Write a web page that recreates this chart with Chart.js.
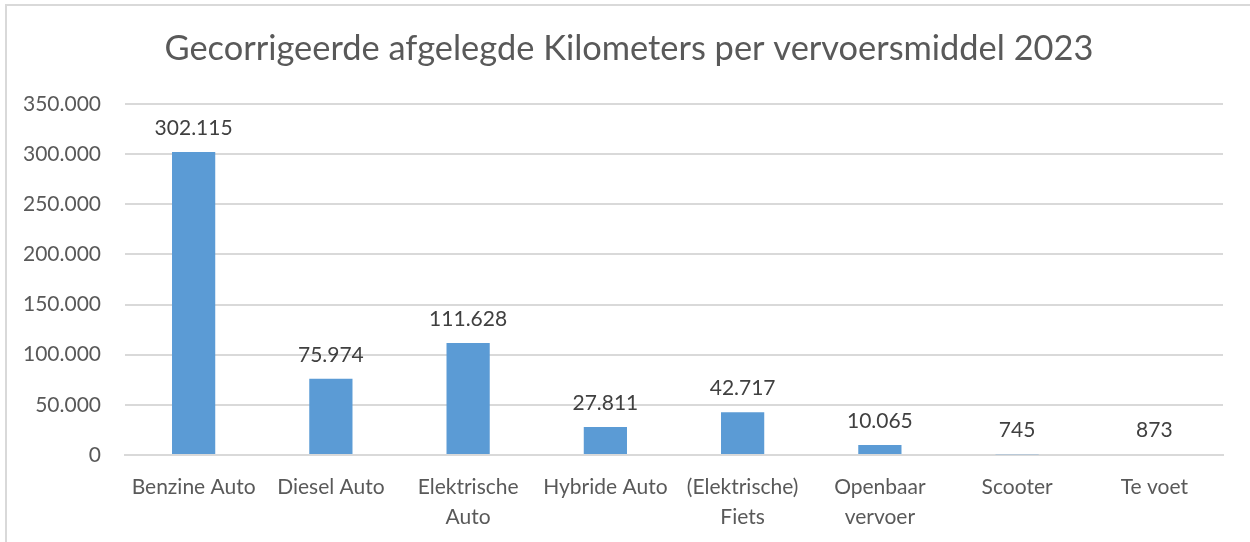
<!DOCTYPE html>
<html>
<head>
<meta charset="utf-8">
<script src="https://cdn.jsdelivr.net/npm/chart.js@4"></script>
<style>
  html, body { margin: 0; padding: 0; background: #fff; }
  #wrap { width: 1250px; height: 542px; position: relative; }
</style>
</head>
<body>
<div id="wrap"><canvas id="mychart" width="1250" height="542"></canvas></div>
<script>
// data
var categories = [
    'Benzine Auto',
    'Diesel Auto',
    ['Elektrische', 'Auto'],
    'Hybride Auto',
    ['(Elektrische)', 'Fiets'],
    ['Openbaar', 'vervoer'],
    'Scooter',
    'Te voet'
];
var kilometers = [302115, 75974, 111628, 27811, 42717, 10065, 745, 873];
var yTicks = [0, 50000, 100000, 150000, 200000, 250000, 300000, 350000];
var titleText = 'Gecorrigeerde afgelegde Kilometers per vervoersmiddel 2023';

var FONT = 'Lato, "Open Sans", sans-serif';

function fmt(v) {
    // dutch thousand separator
    return String(v).replace(/\B(?=(\d{3})+(?!\d))/g, '.');
}

// border round the chart + the title (centred on the whole frame, not the plot)
var frame = {
    id: 'frame',
    beforeDraw: function (chart) {
        var c = chart.ctx;
        c.save();
        c.fillStyle = '#ffffff';
        c.fillRect(0, 0, chart.width, chart.height);
        c.strokeStyle = '#d9d9d9';
        c.lineWidth = 2;
        c.beginPath();
        c.moveTo(6, chart.height);
        c.lineTo(6, 5);
        c.lineTo(chart.width, 5);
        c.stroke();

        c.font = '34.4px ' + FONT;
        c.fillStyle = '#595959';
        c.textAlign = 'center';
        c.textBaseline = 'middle';
        c.fillText(titleText, 629, 49);
        c.restore();
    }
};

// value labels above each bar
var valueLabels = {
    id: 'valueLabels',
    afterDatasetsDraw: function (chart) {
        var c = chart.ctx;
        var meta = chart.getDatasetMeta(0);
        c.save();
        c.font = '21px ' + FONT;
        c.fillStyle = '#404040';
        c.textAlign = 'center';
        c.textBaseline = 'alphabetic';
        meta.data.forEach(function (bar, i) {
            c.fillText(fmt(kilometers[i]), bar.x, bar.y - 17);
        });
        c.restore();
    }
};

var ctx = document.getElementById('mychart');
var chart = new Chart(ctx, {
    type: 'bar',
    data: {
        labels: categories,
        datasets: [{
            data: kilometers,
            backgroundColor: '#5b9bd5',
            borderWidth: 0,
            categoryPercentage: 1,
            barPercentage: 0.315
        }]
    },
    options: {
        responsive: false,
        animation: false,
        layout: { padding: { left: 0, right: 27, top: 104, bottom: 0 } },
        plugins: {
            legend: { display: false },
            tooltip: { enabled: false },
            title: { display: false }
        },
        scales: {
            x: {
                grid: { display: false },
                border: { color: '#d9d9d9', width: 2 },
                ticks: {
                    color: '#595959',
                    font: { family: FONT, size: 21, lineHeight: 1.43 },
                    padding: 9,
                    maxRotation: 0,
                    autoSkip: false
                },
                afterFit: function (scale) { scale.height = 87; }
            },
            y: {
                min: 0,
                max: 350000,
                afterBuildTicks: function (scale) {
                    scale.ticks = yTicks.map(function (v) { return { value: v }; });
                },
                grid: { color: '#d9d9d9', lineWidth: 2, drawTicks: false },
                border: { display: false },
                ticks: {
                    color: '#595959',
                    font: { family: FONT, size: 21 },
                    padding: 24,
                    callback: function (v) { return fmt(v); }
                },
                afterFit: function (scale) { scale.width = 125; }
            }
        }
    },
    plugins: [frame, valueLabels]
});
</script>
</body>
</html>
